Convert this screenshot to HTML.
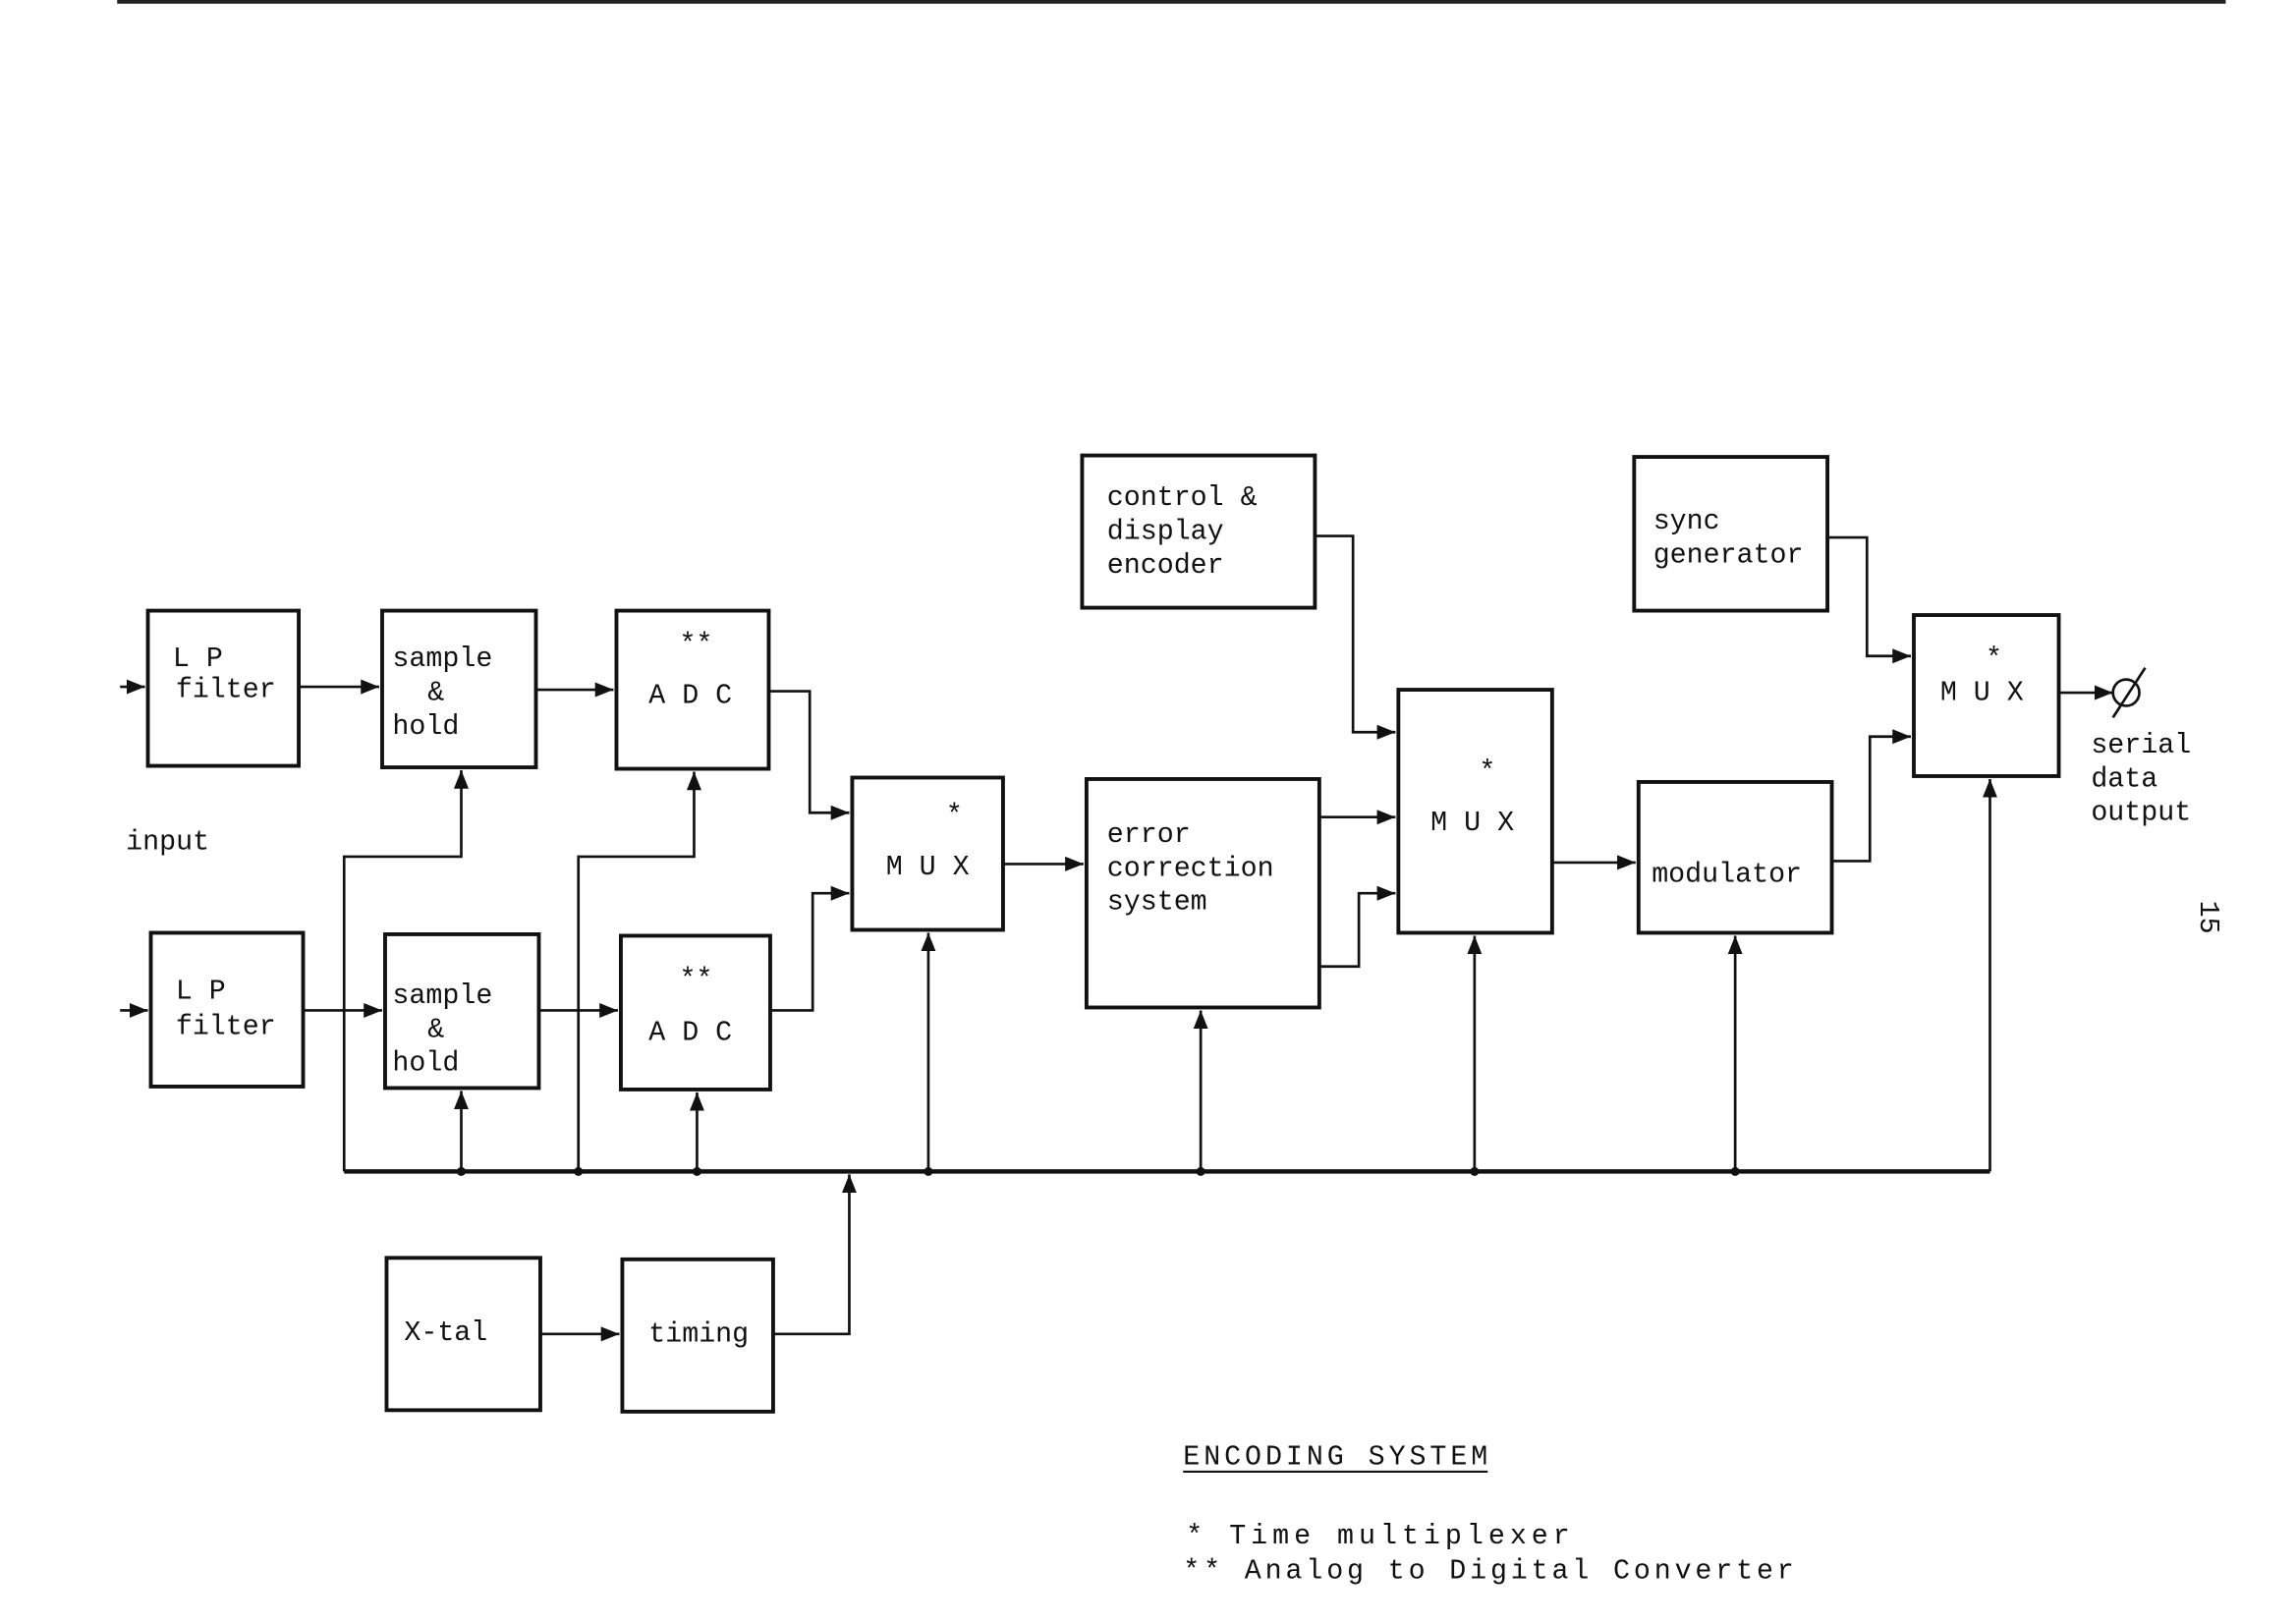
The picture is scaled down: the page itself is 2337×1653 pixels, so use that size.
<!DOCTYPE html>
<html><head><meta charset="utf-8"><style>
html,body{margin:0;padding:0;background:#fff;}
svg{display:block;}
text{font-family:"Liberation Mono",monospace;font-size:19px;fill:#111;}
</style></head><body>
<svg width="2337" height="1653" viewBox="0 0 1568 1109" xmlns="http://www.w3.org/2000/svg">
<defs><marker id="a" viewBox="0 0 10 10" refX="10" refY="5" markerWidth="7" markerHeight="7" orient="auto"><path d="M0,1 L10,5 L0,9 z" fill="#111"/></marker></defs>
<rect width="1568" height="1109" fill="#fff"/>
<line x1="80" y1="1" x2="1520" y2="1" stroke="#222" stroke-width="3"/>
<g fill="none" stroke="#111" stroke-width="2.6">
<rect x="101" y="417" width="103" height="106"/>
<rect x="261" y="417" width="105" height="107"/>
<rect x="421" y="417" width="104" height="108"/>
<rect x="103" y="637" width="104" height="105"/>
<rect x="263" y="638" width="105" height="105"/>
<rect x="424" y="639" width="102" height="105"/>
<rect x="582" y="531" width="103" height="104"/>
<rect x="742" y="532" width="159" height="156"/>
<rect x="739" y="311" width="159" height="104"/>
<rect x="955" y="471" width="105" height="166"/>
<rect x="1116" y="312" width="132" height="105"/>
<rect x="1119" y="534" width="132" height="103"/>
<rect x="1307" y="420" width="99" height="110"/>
<rect x="264" y="859" width="105" height="104"/>
<rect x="425" y="860" width="103" height="104"/>
</g>
<g fill="none" stroke="#111" stroke-width="1.8">
<line x1="235" y1="800" x2="1359" y2="800" stroke-width="3"/>
<polyline points="235,800 235,585 315,585 315,526" marker-end="url(#a)"/>
<polyline points="395,800 395,585 474,585 474,527" marker-end="url(#a)"/>
<line x1="315" y1="800" x2="315" y2="745" marker-end="url(#a)"/>
<line x1="476" y1="800" x2="476" y2="746" marker-end="url(#a)"/>
<line x1="634" y1="800" x2="634" y2="637" marker-end="url(#a)"/>
<line x1="820" y1="800" x2="820" y2="690" marker-end="url(#a)"/>
<line x1="1007" y1="800" x2="1007" y2="639" marker-end="url(#a)"/>
<line x1="1185" y1="800" x2="1185" y2="639" marker-end="url(#a)"/>
<line x1="1359" y1="800" x2="1359" y2="532" marker-end="url(#a)"/>
<polyline points="528,911 580,911 580,802" marker-end="url(#a)"/>
<polyline points="525,472 553,472 553,555 580,555" marker-end="url(#a)"/>
<polyline points="526,690 555,690 555,610 580,610" marker-end="url(#a)"/>
<line x1="685" y1="590" x2="740" y2="590" marker-end="url(#a)"/>
<line x1="901" y1="558" x2="953" y2="558" marker-end="url(#a)"/>
<polyline points="901,660 928,660 928,610 953,610" marker-end="url(#a)"/>
<polyline points="898,366 924,366 924,500 953,500" marker-end="url(#a)"/>
<line x1="1060" y1="589" x2="1117" y2="589" marker-end="url(#a)"/>
<polyline points="1248,367 1275,367 1275,448 1305,448" marker-end="url(#a)"/>
<polyline points="1251,588 1277,588 1277,503 1305,503" marker-end="url(#a)"/>
<line x1="1406" y1="473" x2="1443" y2="473" marker-end="url(#a)"/>
<circle cx="1452" cy="473" r="9"/>
<line x1="1443" y1="490" x2="1465" y2="456"/>
<line x1="82" y1="469" x2="99" y2="469" marker-end="url(#a)"/>
<line x1="82" y1="690" x2="101" y2="690" marker-end="url(#a)"/>
<line x1="204" y1="469" x2="259" y2="469" marker-end="url(#a)"/>
<line x1="207" y1="690" x2="261" y2="690" marker-end="url(#a)"/>
<line x1="366" y1="471" x2="419" y2="471" marker-end="url(#a)"/>
<line x1="368" y1="690" x2="422" y2="690" marker-end="url(#a)"/>
<line x1="369" y1="911" x2="423" y2="911" marker-end="url(#a)"/>
</g>
<g fill="#111"><circle cx="315" cy="800" r="3"/><circle cx="395" cy="800" r="3"/><circle cx="476" cy="800" r="3"/><circle cx="634" cy="800" r="3"/><circle cx="820" cy="800" r="3"/><circle cx="1007" cy="800" r="3"/><circle cx="1185" cy="800" r="3"/></g>
<text x="118" y="455">L P</text><text x="120" y="476">filter</text>
<text x="120" y="682">L P</text><text x="120" y="706">filter</text>
<text x="268" y="455">sample</text><text x="292" y="478">&amp;</text><text x="268" y="501">hold</text>
<text x="268" y="685">sample</text><text x="292" y="708">&amp;</text><text x="268" y="731">hold</text>
<text x="464" y="445" font-size="14">**</text><text x="443" y="480">A D C</text>
<text x="464" y="674" font-size="14">**</text><text x="443" y="710">A D C</text>
<text x="646" y="562" font-size="15">*</text><text x="605" y="597">M U X</text>
<text x="1010" y="532" font-size="15">*</text><text x="977" y="567">M U X</text>
<text x="1356" y="455" font-size="15">*</text><text x="1325" y="478">M U X</text>
<text x="756" y="575">error</text><text x="756" y="598">correction</text><text x="756" y="621">system</text>
<text x="756" y="345">control &amp;</text><text x="756" y="368">display</text><text x="756" y="391">encoder</text>
<text x="1129" y="361">sync</text><text x="1129" y="384">generator</text>
<text x="1128" y="602">modulator</text>
<text x="276" y="915">X-tal</text><text x="443" y="916">timing</text>
<text x="86" y="580">input</text>
<text x="1428" y="514">serial</text><text x="1428" y="537">data</text><text x="1428" y="560">output</text>
<text x="808" y="1000" textLength="208" lengthAdjust="spacing">ENCODING SYSTEM</text>
<line x1="808" y1="1005" x2="1016" y2="1005" stroke="#111" stroke-width="1.5"/>
<text x="810" y="1054" textLength="262" lengthAdjust="spacing">*  Time multiplexer</text>
<text x="808" y="1078" textLength="417" lengthAdjust="spacing">** Analog to Digital Converter</text>
<text x="1500" y="622" font-size="18" transform="rotate(90 1505 620)">15</text>
</svg>
</body></html>
